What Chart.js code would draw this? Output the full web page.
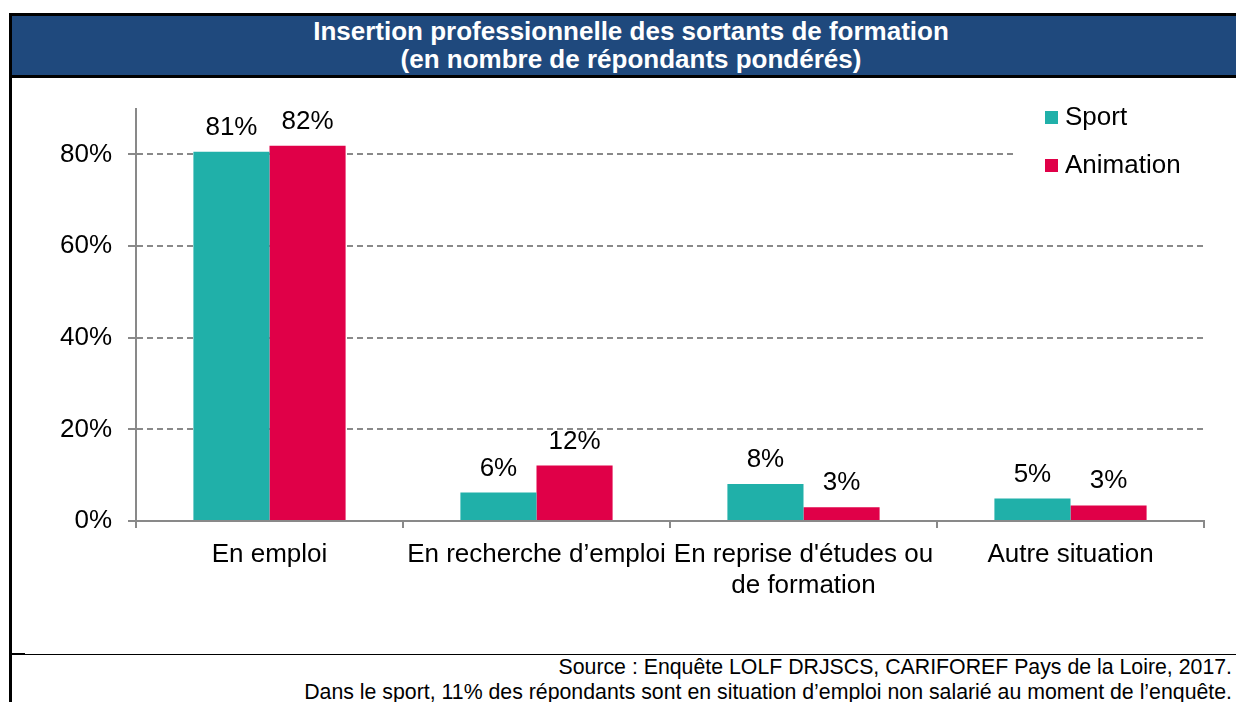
<!DOCTYPE html>
<html lang="fr">
<head>
    <meta charset="UTF-8">
    <title>Insertion professionnelle</title>
    <script src="https://cdn.jsdelivr.net/npm/chart.js"></script>
    <style>
        body { margin: 0; width: 1236px; height: 702px; overflow: hidden; background: #fff; position: relative; font-family: "Liberation Sans", Arial, sans-serif; }
        .cadre { position: absolute; left: 9px; top: 13px; width: 1240px; height: 700px; border-left: 3px solid #000; border-top: 3px solid #000; }
        .titre { position: absolute; left: 12px; top: 16px; width: 1238px; height: 58px; background: #1F497D; border-bottom: 3px solid #000;
                 color: #fff; font-weight: bold; font-size: 26px; line-height: 28px; text-align: center; padding-top: 1px; box-sizing: content-box; }
        .ligne { position: absolute; left: 12px; top: 654px; width: 1230px; border-top: 1px solid #000; }
        .stub { position: absolute; left: 12px; top: 653px; width: 13px; border-top: 2px solid #000; }
        .source { position: absolute; right: 4px; top: 655px; text-align: right; font-size: 21.3px; line-height: 25px; color: #000; white-space: nowrap; }
        #graph { position: absolute; left: 12px; top: 77px; }
    </style>
</head>
<body>
    <div class="cadre"></div>
    <div class="titre">Insertion professionnelle des sortants de formation<br>(en nombre de répondants pondérés)</div>
    <canvas id="graph" width="1224" height="576"></canvas>
    <div class="stub"></div>
    <div class="ligne"></div>
    <div class="source">Source : Enquête LOLF DRJSCS, CARIFOREF Pays de la Loire, 2017.<br>Dans le sport, 11% des répondants sont en situation d’emploi non salarié au moment de l’enquête.</div>

<script>
    // donnees
    var categories = [
        'En emploi',
        'En recherche d’emploi',
        ["En reprise d'études ou", 'de formation'],
        'Autre situation'
    ];
    var sport = [80.6, 6.2, 8.1, 4.9];
    var animation = [81.9, 12.1, 3.0, 3.4];
    var yTicks = [0, 20, 40, 60, 80];

    var police = '"Liberation Sans", Arial, sans-serif';
    var gris = '#898989';

    // etiquettes au-dessus des barres
    var etiquettes = {
        id: 'etiquettes',
        afterDatasetsDraw: function(chart) {
            var ctx = chart.ctx;
            ctx.save();
            ctx.font = '26px ' + police;
            ctx.fillStyle = '#000';
            ctx.textAlign = 'center';
            ctx.textBaseline = 'alphabetic';
            chart.data.datasets.forEach(function(ds, i) {
                chart.getDatasetMeta(i).data.forEach(function(bar, j) {
                    ctx.fillText(Math.round(ds.data[j]) + '%', bar.x, bar.y - 17);
                });
            });
            ctx.restore();
        }
    };

    // legende en haut a droite, fond blanc
    var legende = {
        id: 'legende',
        afterDraw: function(chart) {
            var ctx = chart.ctx;
            ctx.save();
            ctx.fillStyle = '#fff';
            ctx.fillRect(1003, 22, 221, 92);
            ctx.font = '26px ' + police;
            ctx.textBaseline = 'middle';
            chart.data.datasets.forEach(function(ds, i) {
                var y = 34 + i * 48;
                ctx.fillStyle = ds.backgroundColor;
                ctx.fillRect(1033, y, 13, 13);
                ctx.fillStyle = '#000';
                ctx.fillText(ds.label, 1053, y + 7);
            });
            ctx.restore();
        }
    };

    new Chart(document.getElementById('graph'), {
        type: 'bar',
        data: {
            labels: categories,
            datasets: [
                { label: 'Sport', data: sport, backgroundColor: '#20B0A9' },
                { label: 'Animation', data: animation, backgroundColor: '#E00048' }
            ]
        },
        options: {
            responsive: false,
            animation: false,
            categoryPercentage: 0.57,
            barPercentage: 1,
            layout: { padding: { top: 30, right: 32, left: 0, bottom: 0 } },
            plugins: {
                legend: { display: false },
                tooltip: { enabled: false }
            },
            scales: {
                x: {
                    offset: true,
                    grid: { offset: true, drawOnChartArea: false, tickLength: 7, tickColor: gris, lineWidth: 2 },
                    border: { color: gris, width: 2 },
                    ticks: { color: '#000', font: { family: police, size: 26, lineHeight: 1.2 }, maxRotation: 0, autoSkip: false, padding: 11 },
                    afterFit: function(s) { s.height = 132; }
                },
                y: {
                    min: 0,
                    max: 90,
                    afterBuildTicks: function(s) {
                        s.ticks = yTicks.map(function(v) { return { value: v }; });
                    },
                    grid: {
                        color: function(c) { return c.tick && c.tick.value === 0 ? 'rgba(0,0,0,0)' : gris; },
                        lineWidth: 2,
                        tickLength: 8,
                        tickColor: gris,
                        tickBorderDash: []
                    },
                    border: { color: gris, width: 2, dash: [6, 4] },
                    ticks: {
                        color: '#000',
                        font: { family: police, size: 26 },
                        padding: 16,
                        callback: function(v) { return v + '%'; }
                    },
                    afterFit: function(s) { s.width = 124; }
                }
            }
        },
        plugins: [etiquettes, legende]
    });
</script>
</body>
</html>
